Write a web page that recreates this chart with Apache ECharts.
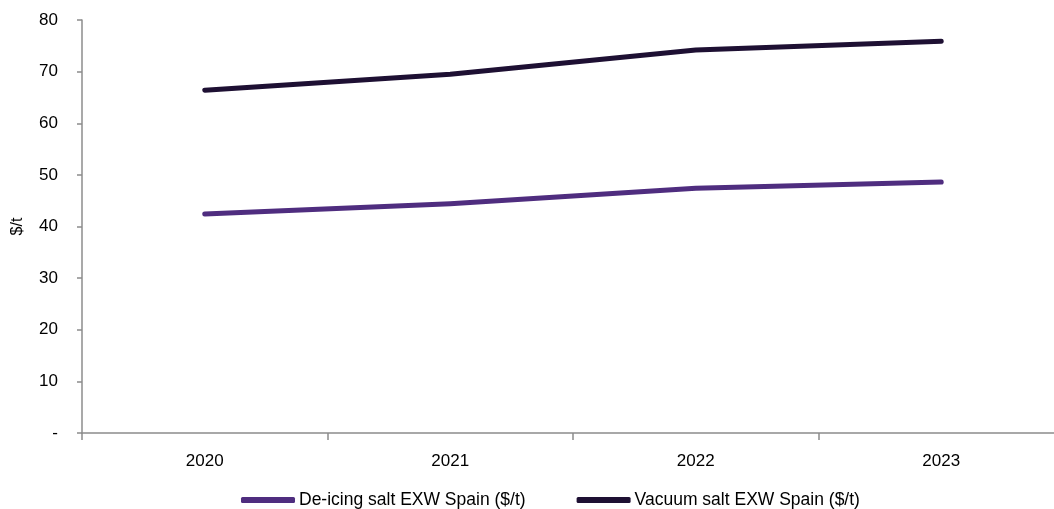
<!DOCTYPE html>
<html>
<head>
<meta charset="utf-8">
<script src="https://cdn.jsdelivr.net/npm/echarts@6/dist/echarts.min.js"></script>
<style>
  html, body { margin: 0; padding: 0; background: #fff; }
  #chart { width: 1054px; height: 509px; }
</style>
</head>
<body>
<div id="chart"></div>
<script>
// Salt prices, ex-works Spain, in $/t
const years = ['2020', '2021', '2022', '2023'];
const deicingSalt = [42.4, 44.4, 47.4, 48.6];
const vacuumSalt = [66.4, 69.5, 74.2, 75.9];
const seriesNames = ['De-icing salt EXW Spain ($/t)', 'Vacuum salt EXW Spain ($/t)'];
const yTicks = { min: 0, max: 80, step: 10 };

const FONT = '"Liberation Sans", Arial, sans-serif';
const AXIS_GREY = '#8c8c8c';

const chart = echarts.init(document.getElementById('chart'), null, { renderer: 'canvas' });

chart.setOption({
  animation: false,
  textStyle: { fontFamily: FONT, color: '#000' },
  grid: {
    left: 82, right: -10, top: 20, bottom: 76,
    containLabel: false,
    outerBoundsMode: 'none'
  },
  legend: {
    top: 486,
    left: 236,
    itemWidth: 54,
    itemHeight: 6,
    itemGap: 51,
    icon: 'roundRect',
    textStyle: { fontFamily: FONT, fontSize: 17.5, color: '#000', padding: [0, 0, 0, -1] },
    data: seriesNames
  },
  xAxis: {
    type: 'category',
    data: years,
    boundaryGap: true,
    axisLine: { lineStyle: { color: AXIS_GREY, width: 1.5 } },
    axisTick: { show: true, length: 7, lineStyle: { color: AXIS_GREY, width: 1.5 } },
    axisLabel: { fontFamily: FONT, fontSize: 17, color: '#000', margin: 20 }
  },
  yAxis: {
    type: 'value',
    min: yTicks.min,
    max: yTicks.max,
    interval: yTicks.step,
    name: '$/t',
    nameLocation: 'middle',
    nameGap: 56,
    nameRotate: 90,
    nameTextStyle: { fontFamily: FONT, fontSize: 16, color: '#000' },
    axisLine: { show: true, lineStyle: { color: AXIS_GREY, width: 1.5 } },
    axisTick: { show: true, length: 5, lineStyle: { color: AXIS_GREY, width: 1.5 } },
    splitLine: { show: false },
    axisLabel: {
      fontFamily: FONT, fontSize: 17, color: '#000', margin: 24,
      formatter: v => (v === 0 ? '-' : String(v))
    }
  },
  series: [
    {
      name: seriesNames[0],
      type: 'line',
      data: deicingSalt,
      symbol: 'none',
      color: '#4f2d7f',
      lineStyle: { width: 5, color: '#4f2d7f', cap: 'round', join: 'round' }
    },
    {
      name: seriesNames[1],
      type: 'line',
      data: vacuumSalt,
      symbol: 'none',
      color: '#1e1033',
      lineStyle: { width: 5, color: '#1e1033', cap: 'round', join: 'round' }
    }
  ]
});
</script>
</body>
</html>
